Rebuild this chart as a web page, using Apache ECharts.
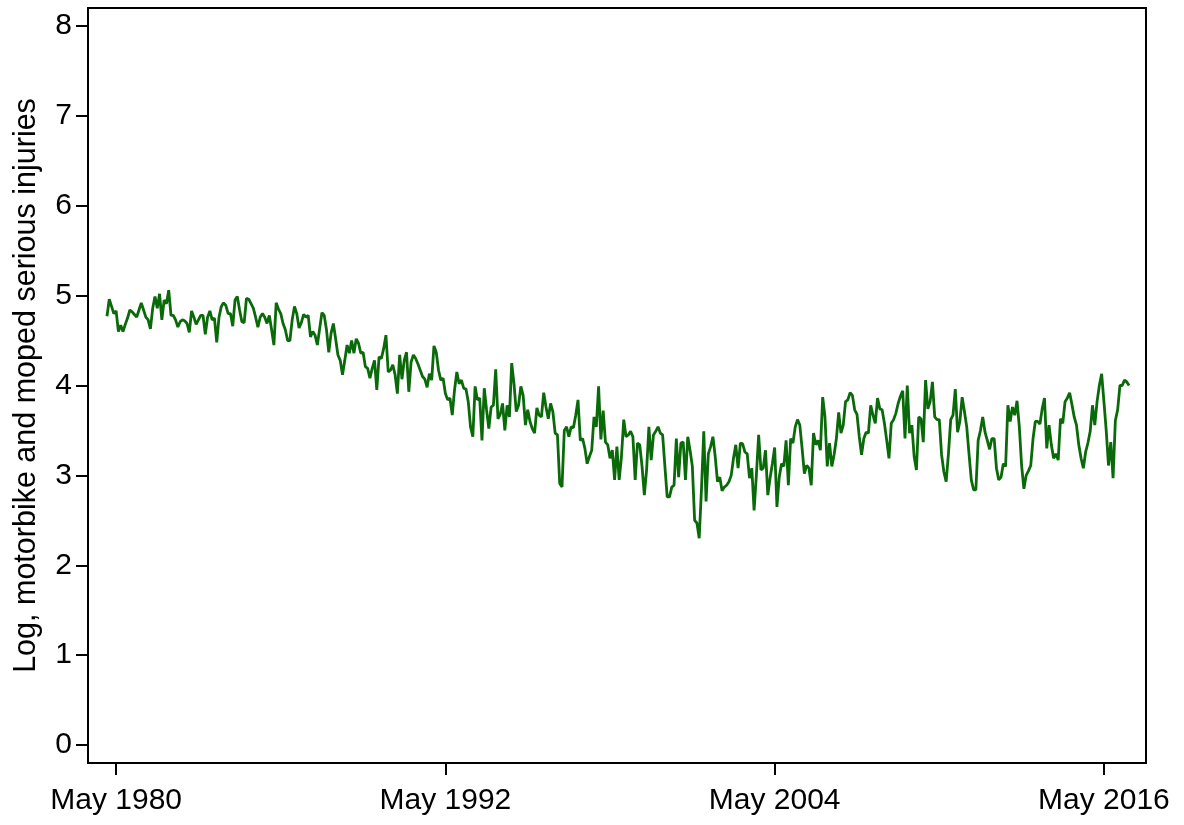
<!DOCTYPE html>
<html>
<head>
<meta charset="utf-8">
<title>Motorbike and moped serious injuries</title>
<script src="https://cdn.jsdelivr.net/npm/echarts@6/dist/echarts.min.js"></script>
<style>
  html, body { margin: 0; padding: 0; background: #ffffff; }
  #chart { width: 1184px; height: 825px; }
</style>
</head>
<body>
<div id="chart"></div>
<script>
// Monthly series, log of motorbike and moped serious injuries, starting January 1980.
const seriesStart = { year: 1980, month: 1 };

const values1980s = [
  4.77, 4.96, 4.88, 4.80, 4.83, 4.60, 4.67, 4.60, 4.68, 4.75,
  4.84, 4.82, 4.79, 4.76, 4.84, 4.92, 4.84, 4.76, 4.73, 4.63,
  4.86, 4.99, 4.86, 5.02, 4.73, 4.95, 4.91, 5.06, 4.78, 4.78,
  4.73, 4.65, 4.71, 4.73, 4.72, 4.69, 4.59, 4.83, 4.76, 4.68,
  4.73, 4.78, 4.78, 4.57, 4.76, 4.83, 4.73, 4.75, 4.48, 4.76,
  4.88, 4.92, 4.89, 4.80, 4.80, 4.66, 4.95, 4.99, 4.84, 4.71,
  4.70, 4.97, 4.96, 4.91, 4.86, 4.76, 4.65, 4.76, 4.80, 4.76,
  4.69, 4.78, 4.62, 4.45, 4.92, 4.85, 4.80, 4.69, 4.62, 4.50,
  4.50, 4.73, 4.88, 4.80, 4.64, 4.70, 4.79, 4.76, 4.78, 4.54,
  4.60, 4.56, 4.45, 4.63, 4.81, 4.78, 4.62, 4.37, 4.58, 4.69,
  4.52, 4.34, 4.28, 4.12, 4.28, 4.45, 4.36, 4.50, 4.36, 4.52,
  4.47, 4.36, 4.37, 4.21, 4.19, 4.08, 4.19, 4.28, 3.95, 4.32
];

const values1990s = [
  4.30, 4.41, 4.56, 4.15, 4.17, 4.23, 4.12, 3.91, 4.34, 4.07,
  4.28, 4.37, 3.93, 4.26, 4.34, 4.30, 4.24, 4.17, 4.10, 4.07,
  3.98, 4.13, 4.06, 4.44, 4.37, 4.17, 4.06, 4.08, 3.91, 3.84,
  3.86, 3.67, 3.95, 4.15, 4.02, 4.06, 3.97, 3.96, 3.82, 3.54,
  3.43, 3.99, 3.84, 3.86, 3.39, 3.97, 3.73, 3.52, 3.76, 3.78,
  4.18, 3.63, 3.68, 3.80, 3.50, 3.78, 3.65, 4.25, 4.02, 3.71,
  3.78, 3.99, 3.89, 3.56, 3.73, 3.60, 3.52, 3.47, 3.75, 3.67,
  3.65, 3.92, 3.76, 3.63, 3.80, 3.71, 3.47, 3.45, 2.91, 2.87,
  3.50, 3.54, 3.43, 3.54, 3.53, 3.67, 3.84, 3.39, 3.41, 3.30,
  3.13, 3.21, 3.28, 3.65, 3.54, 3.99, 3.40, 3.72, 3.37, 3.34,
  3.19, 3.28, 2.95, 3.32, 2.95, 3.21, 3.62, 3.43, 3.45, 3.49,
  3.43, 2.95, 3.36, 3.34, 3.10, 2.78, 3.06, 3.54, 3.17, 3.45
];

const values2000s = [
  3.49, 3.54, 3.47, 3.45, 3.10, 2.76, 2.76, 2.87, 2.89, 3.41,
  2.98, 3.36, 3.37, 2.95, 3.43, 3.28, 3.10, 2.50, 2.47, 2.30,
  2.85, 3.49, 2.71, 3.24, 3.32, 3.43, 3.21, 2.93, 2.98, 2.83,
  2.87, 2.89, 2.93, 3.00, 3.19, 3.34, 3.08, 3.36, 3.35, 3.26,
  3.24, 2.97, 3.08, 2.61, 3.00, 3.45, 3.06, 3.08, 3.28, 2.78,
  2.97, 3.13, 3.31, 2.65, 2.98, 3.13, 3.10, 3.39, 2.89, 3.41,
  3.36, 3.54, 3.62, 3.56, 3.30, 3.02, 3.11, 3.08, 2.89, 3.47,
  3.34, 3.39, 3.28, 3.87, 3.65, 3.10, 3.36, 3.10, 3.23, 3.41,
  3.70, 3.47, 3.56, 3.82, 3.84, 3.92, 3.89, 3.73, 3.68, 3.43,
  3.23, 3.41, 3.48, 3.47, 3.78, 3.67, 3.58, 3.86, 3.74, 3.73,
  3.58, 3.39, 3.19, 3.58, 3.62, 3.69, 3.80, 3.88, 3.94, 3.41,
  4.00, 3.47, 3.56, 3.21, 3.06, 3.65, 3.63, 3.37, 4.06, 3.74
];

const values2010s = [
  3.82, 4.04, 3.65, 3.62, 3.62, 3.23, 3.04, 2.93, 3.24, 3.62,
  3.67, 3.96, 3.48, 3.60, 3.87, 3.71, 3.54, 3.24, 2.95, 2.84,
  2.84, 3.39, 3.50, 3.65, 3.48, 3.39, 3.29, 3.41, 3.41, 3.08,
  2.95, 2.98, 3.13, 3.10, 3.78, 3.60, 3.76, 3.67, 3.83, 3.54,
  3.11, 2.85, 3.00, 3.05, 3.11, 3.41, 3.60, 3.60, 3.57, 3.74,
  3.86, 3.30, 3.56, 3.34, 3.19, 3.24, 3.17, 3.63, 3.58, 3.82,
  3.86, 3.92, 3.79, 3.65, 3.56, 3.34, 3.19, 3.08, 3.26, 3.36,
  3.49, 3.78, 3.56, 3.82, 4.00, 4.13, 3.82, 3.50, 3.11, 3.37,
  2.97, 3.61, 3.73, 4.00, 4.00, 4.06, 4.04, 4.00
];

// Tick positions on the x axis, in months since January 1980, and their labels.
const xTickMonths = [4, 148, 292, 436];
const xTickLabels = ['May 1980', 'May 1992', 'May 2004', 'May 2016'];
const yTickValues = [0, 1, 2, 3, 4, 5, 6, 7, 8];

const yTitle = 'Log, motorbike and moped serious injuries';

const allValues = values1980s.concat(values1990s, values2000s, values2010s);
const lineData = allValues.map((v, i) => [i, v]);

const fontFamily = '"Liberation Sans", Arial, Helvetica, sans-serif';
const ink = '#000000';

const chart = echarts.init(document.getElementById('chart'), null, { renderer: 'canvas' });

chart.setOption({
  animation: false,
  backgroundColor: '#ffffff',
  grid: {
    left: 88, right: 38, top: 8, bottom: 62,
    show: true,
    borderColor: ink,
    borderWidth: 2,
    containLabel: false
  },
  xAxis: {
    type: 'value',
    min: -8.3,
    max: 454.4,
    axisLine: { show: true, onZero: false, lineStyle: { color: ink, width: 2 } },
    axisTick: {
      show: true, length: 12, inside: false,
      customValues: xTickMonths,
      lineStyle: { color: ink, width: 2 }
    },
    axisLabel: {
      show: true,
      customValues: xTickMonths,
      margin: 23,
      fontSize: 30,
      fontFamily: fontFamily,
      color: ink,
      formatter: (val) => {
        const k = xTickMonths.indexOf(Math.round(val));
        return k >= 0 ? xTickLabels[k] : '';
      }
    },
    splitLine: { show: false }
  },
  yAxis: {
    type: 'value',
    min: -0.2,
    max: 8.2,
    name: yTitle,
    nameLocation: 'middle',
    nameGap: 46,
    nameTextStyle: { fontSize: 30.5, fontFamily: fontFamily, color: ink },
    axisLine: { show: true, onZero: false, lineStyle: { color: ink, width: 2 } },
    axisTick: {
      show: true, length: 12, inside: false,
      customValues: yTickValues,
      lineStyle: { color: ink, width: 2 }
    },
    axisLabel: {
      show: true,
      customValues: yTickValues,
      margin: 16,
      fontSize: 30,
      padding: [4, 0, 0, 0],
      fontFamily: fontFamily,
      color: ink
    },
    splitLine: { show: false }
  },
  series: [{
    type: 'line',
    data: lineData,
    showSymbol: false,
    symbol: 'none',
    lineStyle: { color: '#0a6a0a', width: 2.8 },
    silent: true
  }]
});
</script>
</body>
</html>
